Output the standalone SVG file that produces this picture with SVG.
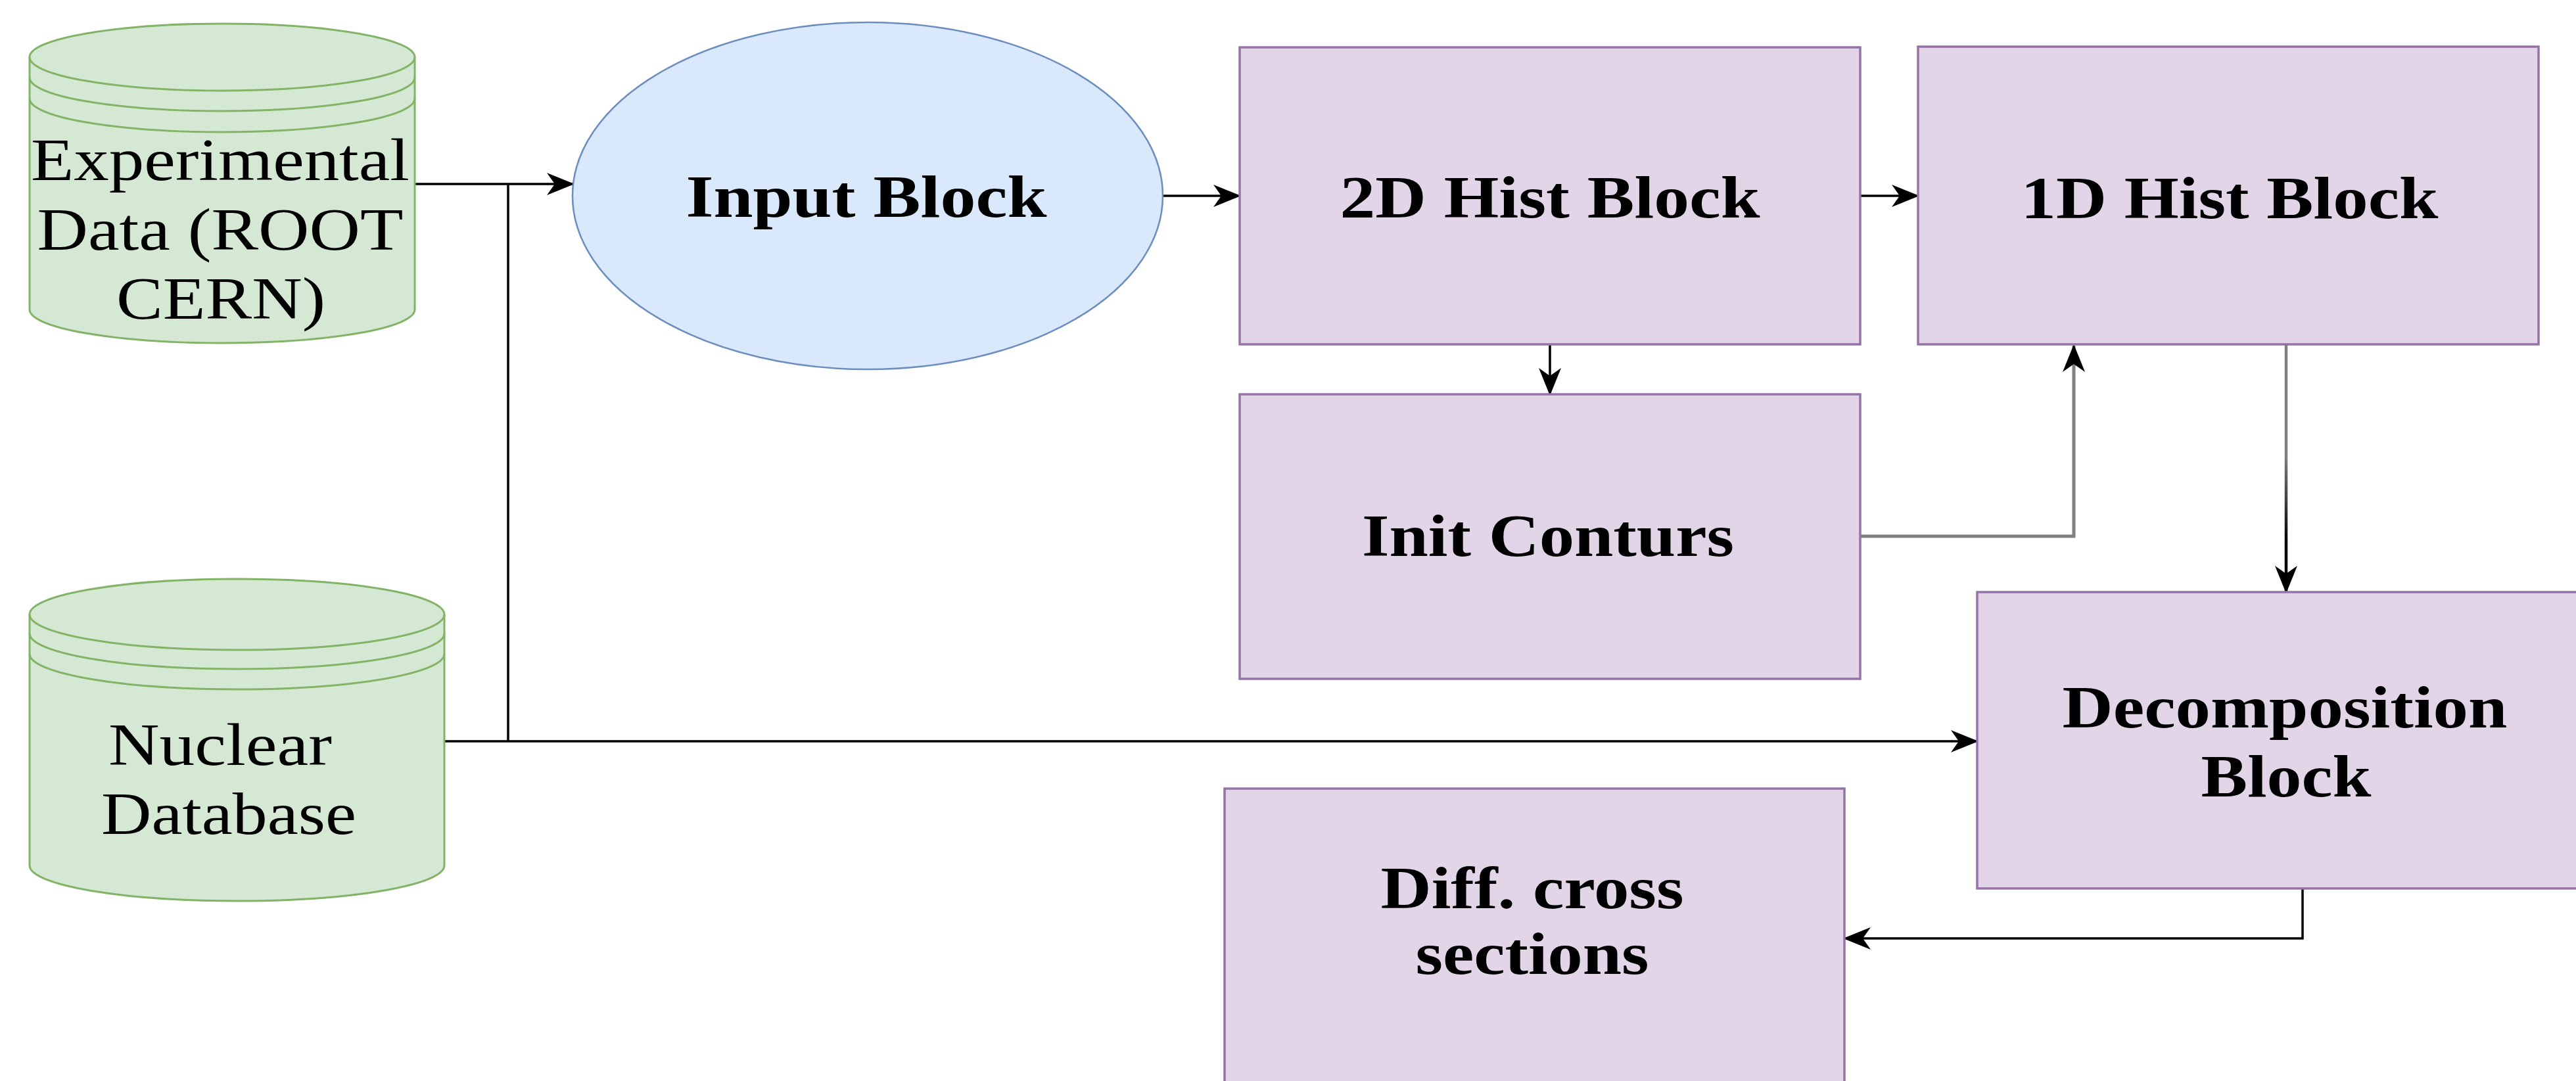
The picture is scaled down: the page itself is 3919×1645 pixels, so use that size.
<svg xmlns="http://www.w3.org/2000/svg" width="3919" height="1645" viewBox="0 0 3919 1645">
<style>
  .db { fill: #d5e8d4; stroke: #82b366; stroke-width: 3; }
  .dbl { fill: none; stroke: #82b366; stroke-width: 3; }
  .blk { fill: #e1d5e7; stroke: #9673a6; stroke-width: 3.5; }
  .ell { fill: #dae8fc; stroke: #6c8ebf; stroke-width: 2.5; }
  .t { font-family: "Liberation Serif", "Times New Roman", serif; font-size: 90px; fill: #000; text-anchor: middle; }
  .b { font-weight: bold; }
  .c { fill: none; stroke: #000; stroke-width: 3.5; }
  .g { fill: none; stroke: #808080; stroke-width: 5; }
</style>
<defs>
  <marker id="arr" markerUnits="userSpaceOnUse" markerWidth="42" markerHeight="34" viewBox="0 0 42 34" refX="40" refY="17" orient="auto">
    <path d="M0,0 L42,17 L0,34 L12,17 Z" fill="#000"/>
  </marker>
  <linearGradient id="gb" gradientUnits="userSpaceOnUse" x1="0" y1="524" x2="0" y2="901">
    <stop offset="0.45" stop-color="#808080"/>
    <stop offset="0.8" stop-color="#000"/>
  </linearGradient>
</defs>
<rect width="3919" height="1645" fill="#fff"/>

<g id="connectors">
  <path class="c" d="M631,280 H872" marker-end="url(#arr)"/>
  <path class="c" d="M773,1128 V280"/>
  <path class="c" d="M676,1128 H3008" marker-end="url(#arr)"/>
  <path class="c" d="M1769,298 H1886" marker-end="url(#arr)"/>
  <path class="c" d="M2830,298 H2918" marker-end="url(#arr)"/>
  <path class="c" d="M2358,524 V600" marker-end="url(#arr)"/>
  <path class="g" d="M2830,816 H3155 V526" marker-end="url(#arr)"/>
  <path d="M3478,524 V901" fill="none" stroke="url(#gb)" stroke-width="4.5" marker-end="url(#arr)"/>
  <path class="c" d="M3503,1352 V1428 H2806" marker-end="url(#arr)"/>
</g>

<g id="experimental-data">
  <path class="db" d="M45,87 A293,51 0 0 1 631,87 V471 A293,51 0 0 1 45,471 Z"/>
  <path class="dbl" d="M45,87 A293,51 0 0 0 631,87 M45,118 A293,51 0 0 0 631,118 M45,150 A293,51 0 0 0 631,150"/>
  <text class="t" x="335" y="274" textLength="576" lengthAdjust="spacingAndGlyphs">Experimental</text>
  <text class="t" x="335" y="380" textLength="557" lengthAdjust="spacingAndGlyphs">Data (ROOT</text>
  <text class="t" x="336" y="485" textLength="318" lengthAdjust="spacingAndGlyphs">CERN)</text>
</g>

<g id="nuclear-database">
  <path class="db" d="M45,935 A315.5,54 0 0 1 676,935 V1317 A315.5,54 0 0 1 45,1317 Z"/>
  <path class="dbl" d="M45,935 A315.5,54 0 0 0 676,935 M45,964 A315.5,54 0 0 0 676,964 M45,995 A315.5,54 0 0 0 676,995"/>
  <text class="t" x="335" y="1164" textLength="340" lengthAdjust="spacingAndGlyphs">Nuclear</text>
  <text class="t" x="348" y="1269" textLength="388" lengthAdjust="spacingAndGlyphs">Database</text>
</g>

<g id="input-block">
  <ellipse class="ell" cx="1320" cy="298" rx="449" ry="264"/>
  <text class="t b" x="1318" y="330" textLength="549" lengthAdjust="spacingAndGlyphs">Input Block</text>
</g>

<g id="hist2d-block">
  <rect class="blk" x="1886" y="72" width="944" height="452"/>
  <text class="t b" x="2358" y="331" textLength="639" lengthAdjust="spacingAndGlyphs">2D Hist Block</text>
</g>

<g id="hist1d-block">
  <rect class="blk" x="2918" y="71" width="944" height="453"/>
  <text class="t b" x="3392" y="332" textLength="635" lengthAdjust="spacingAndGlyphs">1D Hist Block</text>
</g>

<g id="init-conturs">
  <rect class="blk" x="1886" y="600" width="944" height="433"/>
  <text class="t b" x="2355" y="846" textLength="566" lengthAdjust="spacingAndGlyphs">Init Conturs</text>
</g>

<g id="decomposition-block">
  <rect class="blk" x="3008" y="901" width="940" height="451"/>
  <text class="t b" x="3476" y="1107" textLength="677" lengthAdjust="spacingAndGlyphs">Decomposition</text>
  <text class="t b" x="3478" y="1212" textLength="259" lengthAdjust="spacingAndGlyphs">Block</text>
</g>

<g id="diff-cross-sections">
  <rect class="blk" x="1863" y="1200" width="943" height="470"/>
  <text class="t b" x="2331" y="1382" textLength="461" lengthAdjust="spacingAndGlyphs">Diff. cross</text>
  <text class="t b" x="2331" y="1482" textLength="355" lengthAdjust="spacingAndGlyphs">sections</text>
</g>
</svg>
